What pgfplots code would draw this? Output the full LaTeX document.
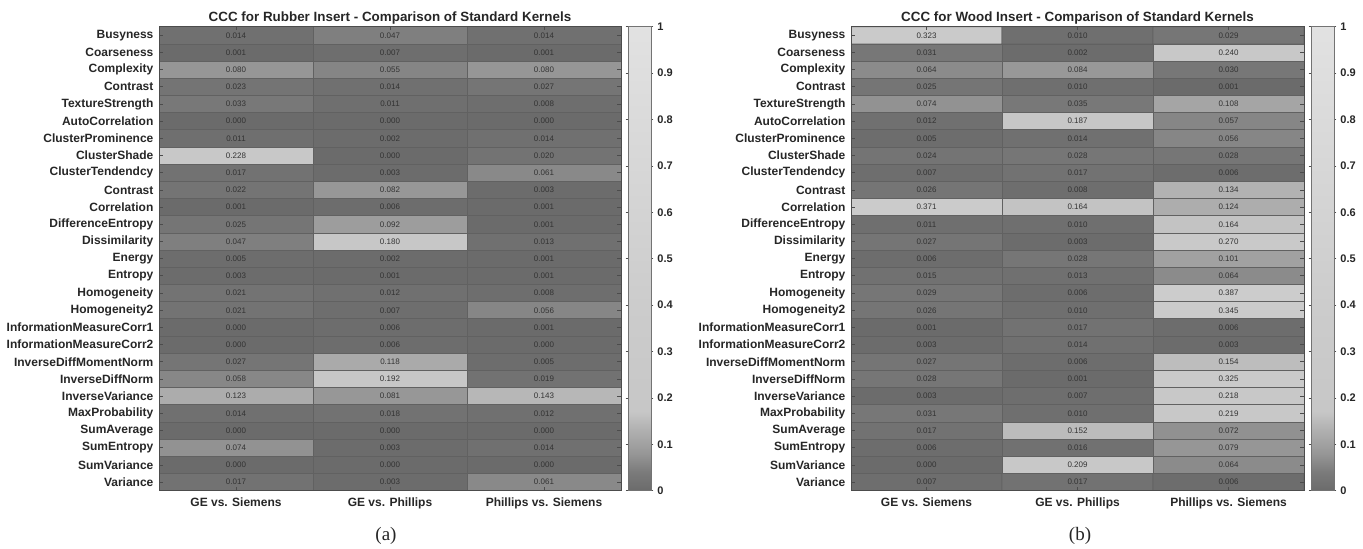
\documentclass[border=0pt]{standalone}
\usepackage{pgfplots}
\usepackage{pgfplotstable}
\pgfplotsset{compat=1.18}
\usepackage{fontspec}
\setmainfont{Liberation Sans}
\newfontfamily\capfont{Liberation Serif}

% Rubber insert: x = comparison (0 GE vs Siemens, 1 GE vs Phillips, 2 Phillips vs Siemens), y = feature row
\pgfplotstableread{
x y c
0 0 0.014
1 0 0.047
2 0 0.014
0 1 0.001
1 1 0.007
2 1 0.001
0 2 0.080
1 2 0.055
2 2 0.080
0 3 0.023
1 3 0.014
2 3 0.027
0 4 0.033
1 4 0.011
2 4 0.008
0 5 0.000
1 5 0.000
2 5 0.000
0 6 0.011
1 6 0.002
2 6 0.014
0 7 0.228
1 7 0.000
2 7 0.020
0 8 0.017
1 8 0.003
2 8 0.061
0 9 0.022
1 9 0.082
2 9 0.003
0 10 0.001
1 10 0.006
2 10 0.001
0 11 0.025
1 11 0.092
2 11 0.001
0 12 0.047
1 12 0.180
2 12 0.013
0 13 0.005
1 13 0.002
2 13 0.001
0 14 0.003
1 14 0.001
2 14 0.001
0 15 0.021
1 15 0.012
2 15 0.008
0 16 0.021
1 16 0.007
2 16 0.056
0 17 0.000
1 17 0.006
2 17 0.001
0 18 0.000
1 18 0.006
2 18 0.000
0 19 0.027
1 19 0.118
2 19 0.005
0 20 0.058
1 20 0.192
2 20 0.019
0 21 0.123
1 21 0.081
2 21 0.143
0 22 0.014
1 22 0.018
2 22 0.012
0 23 0.000
1 23 0.000
2 23 0.000
0 24 0.074
1 24 0.003
2 24 0.014
0 25 0.000
1 25 0.000
2 25 0.000
0 26 0.017
1 26 0.003
2 26 0.061
}\rubber

% Wood insert
\pgfplotstableread{
x y c
0 0 0.323
1 0 0.010
2 0 0.029
0 1 0.031
1 1 0.002
2 1 0.240
0 2 0.064
1 2 0.084
2 2 0.030
0 3 0.025
1 3 0.010
2 3 0.001
0 4 0.074
1 4 0.035
2 4 0.108
0 5 0.012
1 5 0.187
2 5 0.057
0 6 0.005
1 6 0.014
2 6 0.056
0 7 0.024
1 7 0.028
2 7 0.028
0 8 0.007
1 8 0.017
2 8 0.006
0 9 0.026
1 9 0.008
2 9 0.134
0 10 0.371
1 10 0.164
2 10 0.124
0 11 0.011
1 11 0.010
2 11 0.164
0 12 0.027
1 12 0.003
2 12 0.270
0 13 0.006
1 13 0.028
2 13 0.101
0 14 0.015
1 14 0.013
2 14 0.064
0 15 0.029
1 15 0.006
2 15 0.387
0 16 0.026
1 16 0.010
2 16 0.345
0 17 0.001
1 17 0.017
2 17 0.006
0 18 0.003
1 18 0.014
2 18 0.003
0 19 0.027
1 19 0.006
2 19 0.154
0 20 0.028
1 20 0.001
2 20 0.325
0 21 0.003
1 21 0.007
2 21 0.218
0 22 0.031
1 22 0.010
2 22 0.219
0 23 0.017
1 23 0.152
2 23 0.072
0 24 0.006
1 24 0.016
2 24 0.079
0 25 0.000
1 25 0.209
2 25 0.064
0 26 0.007
1 26 0.017
2 26 0.006
}\wood

\pgfplotsset{
  cccaxis/.style={
    scale only axis,
    height=232pt,
    xmin=-0.5, xmax=2.5, ymin=-0.5, ymax=26.5,
    y dir=reverse,
    enlargelimits=false,
    axis on top,
    xtick={0,1,2},
    xticklabels={GE vs. Siemens, GE vs. Phillips, Phillips vs. Siemens},
    ytick={0,...,26},
    yticklabels={Busyness, Coarseness, Complexity, Contrast, TextureStrength, AutoCorrelation, ClusterProminence, ClusterShade, ClusterTendendcy, Contrast, Correlation, DifferenceEntropy, Dissimilarity, Energy, Entropy, Homogeneity, Homogeneity2, InformationMeasureCorr1, InformationMeasureCorr2, InverseDiffMomentNorm, InverseDiffNorm, InverseVariance, MaxProbability, SumAverage, SumEntropy, SumVariance, Variance},
    tick align=inside,
    major tick length=1.8pt,
    tick style={black!70, line width=0.4pt},
    axis line style={black!70, line width=0.5pt},
    xticklabel style={font=\fontsize{6}{7}\selectfont\bfseries, text=black!85, anchor=north, inner sep=0pt, yshift=-3.5pt},
    yticklabel style={font=\fontsize{6}{7}\selectfont\bfseries, text=black!85, anchor=east, inner sep=0pt, xshift=-2.6pt},
    every axis title shift=0pt,
    title style={font=\fontsize{6.7}{8}\selectfont\bfseries, text=black!85, at={(0.5,1)}, anchor=south, inner sep=1pt},
    colormap={cccmap}{gray(0pt)=(0.42); gray(4pt)=(0.48); gray(8pt)=(0.59); gray(14pt)=(0.71); gray(17pt)=(0.78); gray(40pt)=(0.80); gray(100pt)=(0.885)},
    point meta min=0, point meta max=1,
    /pgf/number format/assume math mode=true,
    colorbar,
    colorbar style={
      width=11.5pt,
      at={(parent axis.north east)}, anchor=north west, xshift=-5pt,
      ytick={0,0.1,0.2,0.3,0.4,0.5,0.6,0.7,0.8,0.9,1},
      yticklabel pos=right,
      tick align=outside,
      major tick length=1.2pt,
      tick style={black!70},
      axis line style={black!55},
      yticklabel style={font=\fontsize{5.5}{6}\selectfont\bfseries, text=black!85, anchor=west, inner sep=0pt, xshift=1.8pt, /pgf/number format/assume math mode=true},
    },
  },
  cccplot/.style={
    matrix plot*,
    mesh/cols=3,
    shader=faceted,
    faceted color=black!62,
    line width=0.35pt,
    point meta=explicit,
    nodes near coords,
    every node near coord/.append style={
      anchor=center, inner sep=0pt,
      font=\fontsize{4}{4}\selectfont, text=black!80,
      /pgf/number format/fixed,
      /pgf/number format/fixed zerofill,
      /pgf/number format/precision=3,
      /pgf/number format/assume math mode=true,
    },
  },
}

\begin{document}
\begin{tikzpicture}
\path[use as bounding box] (0,0) rectangle (681.5pt,274.5pt);

\begin{axis}[cccaxis, width=231pt, at={(79.5pt,29.15pt)}, anchor=south west,
  title={CCC for Rubber Insert - Comparison of Standard Kernels}]
\addplot[cccplot] table[x=x, y=y, meta=c] {\rubber};
\end{axis}

\begin{axis}[cccaxis, width=226.5pt, at={(425.5pt,29.15pt)}, anchor=south west,
  title={CCC for Wood Insert - Comparison of Standard Kernels}]
\addplot[cccplot] table[x=x, y=y, meta=c] {\wood};
\end{axis}

\node[font=\capfont\fontsize{9.5}{11}\selectfont, text=black!85] at (193pt,6.5pt) {(a)};
\node[font=\capfont\fontsize{9.5}{11}\selectfont, text=black!85] at (540pt,6.5pt) {(b)};
\end{tikzpicture}
\end{document}
